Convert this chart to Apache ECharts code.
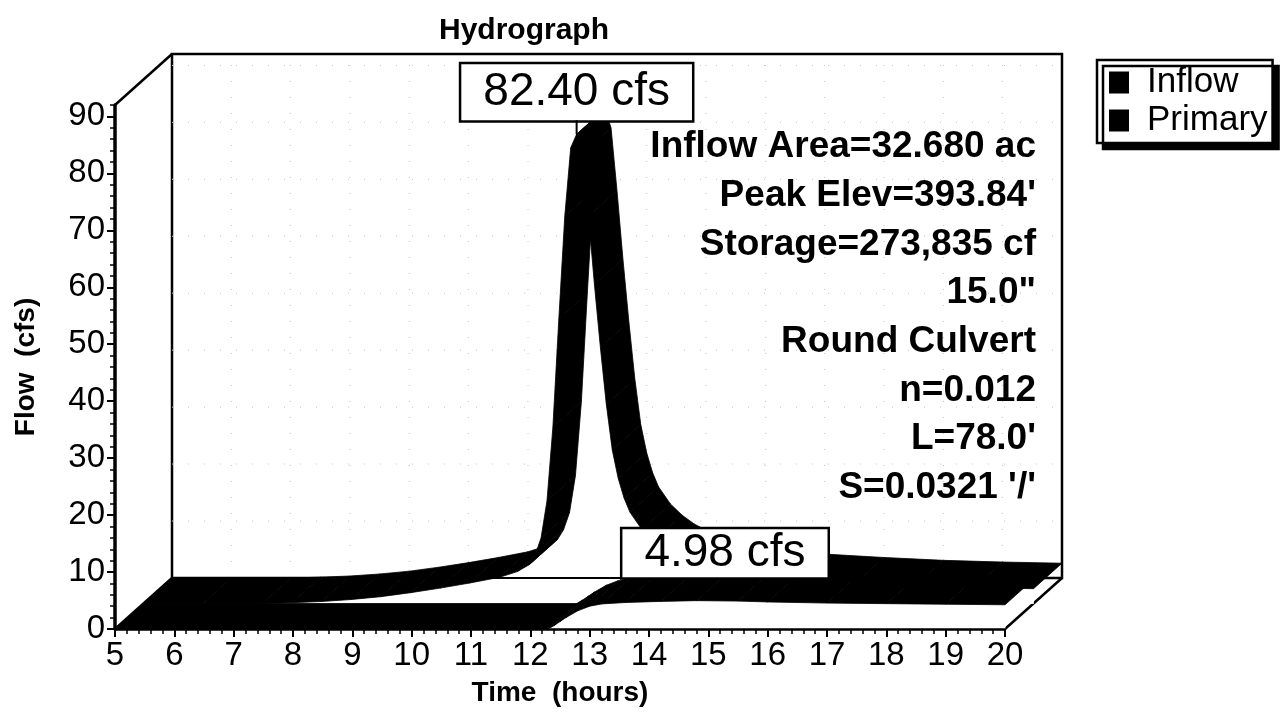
<!DOCTYPE html>
<html>
<head>
<meta charset="utf-8">
<script src="https://cdn.jsdelivr.net/npm/echarts@6/dist/echarts.min.js"></script>
<style>
  html, body { margin: 0; background: #fff; }
  #chart { width: 1282px; height: 714px; }
</style>
</head>
<body>
<div id="chart"></div>
<script>
// hours / cfs
var inflowTime = [5.0, 6.0, 7.0, 7.5, 8.0, 8.5, 9.0, 9.5, 10.0, 10.5,
                  11.0, 11.3, 11.5, 11.6, 11.7, 11.8, 11.9, 12.0, 12.1, 12.2,
                  12.3, 12.4, 12.5, 12.6, 12.7, 12.8, 12.9, 13.0, 13.1, 13.2,
                  13.4, 13.6, 13.8, 14.0, 14.5, 15.0, 16.0, 17.0, 18.0, 19.0, 20.0];
var inflowCfs  = [0, 0, 0, 0.15, 0.35, 0.7, 1.2, 1.9, 2.7, 3.6,
                  4.6, 5.6, 6.8, 8.5, 11.5, 18, 31, 50, 68, 80,
                  82.4, 79, 68, 56, 45, 35, 27, 22, 18.5, 16,
                  13, 11, 9.5, 8.4, 6.6, 5.5, 4.2, 3.6, 3.1, 2.8, 2.6];
var primaryTime = [5.0, 12.3, 12.4, 12.5, 12.6, 12.8, 13.0, 13.2, 13.6, 14.2,
                   14.8, 15.5, 16.0, 17.0, 18.0, 19.0, 20.0];
var primaryCfs  = [0, 0, 0.6, 1.3, 2.0, 3.2, 4.0, 4.4, 4.65, 4.85,
                   4.98, 4.9, 4.75, 4.55, 4.45, 4.35, 4.25];
var inflowPeak = [12.3, 82.40];
var primaryPeak = [14.8, 4.98];
var xRange = [5, 20];
var yRange = [0, 92];
var yTicks = [0, 10, 20, 30, 40, 50, 60, 70, 80, 90];
var notes = ['Inflow Area=32.680 ac', "Peak Elev=393.84'", 'Storage=273,835 cf', '15.0"',
             'Round Culvert', 'n=0.012', "L=78.0'", "S=0.0321 '/'"];

var FONT = '"Liberation Sans", Arial, sans-serif';
var DX = 57, DY = -51;   // offset of the back wall (depth 1)

function proj(api, t, v, d) {
  var p = api.coord([t, v]);
  return [p[0] + DX * d, p[1] + DY * d];
}

function zip(a, b) { return a.map(function (t, i) { return [t, b[i]]; }); }

// black top surface of a ribbon between two depths
function ribbonTop(d0, d1) {
  return function (params, api) {
    var i = params.dataIndexInside;
    if (i >= params.dataInsideLength - 1) return null;
    var t0 = api.value(0), v0 = api.value(1);
    var t1 = api.value(0, i + 1), v1 = api.value(1, i + 1);
    return {
      type: 'polygon',
      shape: { points: [proj(api, t0, v0, d0), proj(api, t1, v1, d0), proj(api, t1, v1, d1), proj(api, t0, v0, d1)] },
      style: { fill: '#000', stroke: '#000', lineWidth: 0.8 }
    };
  };
}
// white front face of a ribbon
function ribbonFace(d) {
  return function (params, api) {
    var i = params.dataIndexInside;
    if (i >= params.dataInsideLength - 1) return null;
    var t0 = api.value(0), v0 = api.value(1);
    var t1 = api.value(0, i + 1), v1 = api.value(1, i + 1);
    return {
      type: 'polygon',
      shape: { points: [proj(api, t0, 0, d), proj(api, t0, v0, d), proj(api, t1, v1, d), proj(api, t1, 0, d)] },
      style: { fill: '#fff', stroke: '#fff', lineWidth: 0.8 }
    };
  };
}

function renderWall(params, api) {
  var x0 = xRange[0], x1 = xRange[1], y0 = yRange[0], y1 = yRange[1];
  var kids = [];
  var dot = { stroke: '#c4c4c4', lineWidth: 1, lineDash: [1, 15] };
  for (var h = x0 + 1; h < x1; h++) {
    var a = proj(api, h, y0, 1), b = proj(api, h, y1, 1);
    kids.push({ type: 'line', shape: { x1: a[0], y1: a[1], x2: b[0], y2: b[1] }, style: dot });
  }
  for (var v = 10; v < y1; v += 10) {
    var c = proj(api, x0, v, 1), e = proj(api, x1, v, 1);
    kids.push({ type: 'line', shape: { x1: c[0], y1: c[1], x2: e[0], y2: e[1] }, style: dot });
  }
  kids.unshift({
    type: 'polygon',
    shape: { points: [proj(api, x0, y0, 1), proj(api, x1, y0, 1), proj(api, x1, y1, 1), proj(api, x0, y1, 1)] },
    style: { fill: '#fff', stroke: '#000', lineWidth: 2.5 }
  });
  [[x0, y1], [x0, y0], [x1, y0]].forEach(function (c) {
    var p = proj(api, c[0], c[1], 0), q = proj(api, c[0], c[1], 1);
    kids.push({ type: 'line', shape: { x1: p[0], y1: p[1], x2: q[0], y2: q[1] }, style: { stroke: '#000', lineWidth: 2.5 } });
  });
  return { type: 'group', children: kids };
}

// back floor edge, shows through under the rising limb
function renderFloorEdge(params, api) {
  var a = proj(api, xRange[0], yRange[0], 1), b = proj(api, xRange[1], yRange[0], 1);
  return { type: 'line', shape: { x1: a[0], y1: a[1], x2: b[0], y2: b[1] }, style: { stroke: '#000', lineWidth: 2 } };
}

var peakBox = [
  { gap: -14, pad: [5, 22, 5, 22], leader: true },
  { gap: 2, pad: [1, 22, 1, 22], leader: false }
];
function renderPeak(params, api) {
  var p = proj(api, api.value(0), api.value(1), 0.5);
  var txt = api.value(1).toFixed(2) + ' cfs';
  var box = peakBox[params.dataIndex];
  var bottom = p[1] + box.gap;
  var kids = [{
    type: 'text', x: p[0], y: bottom,
    style: {
      text: txt, fill: '#000', font: '46px ' + FONT, align: 'center', verticalAlign: 'bottom',
      backgroundColor: '#fff', borderColor: '#000', borderWidth: 2.5, padding: box.pad
    }
  }];
  if (box.leader) {
    kids.push({ type: 'line', shape: { x1: p[0], y1: bottom, x2: p[0], y2: p[1] }, style: { stroke: '#000', lineWidth: 2 } });
  }
  return { type: 'group', children: kids };
}

var chart = echarts.init(document.getElementById('chart'));
chart.setOption({
  animation: false,
  backgroundColor: '#fff',
  title: {
    text: 'Hydrograph', left: 434, top: 11,
    textStyle: { fontFamily: FONT, fontSize: 30, fontWeight: 'bold', color: '#000' }
  },
  legend: {
    data: ['Inflow', 'Primary'], orient: 'vertical', left: 1097, top: 60,
    selectedMode: false, icon: 'rect', itemWidth: 20, itemHeight: 22, itemGap: 3,
    padding: [5, 5, 5, 12],
    backgroundColor: '#fff', borderColor: '#000', borderWidth: 2.5,
    shadowColor: '#000', shadowBlur: 0, shadowOffsetX: 6, shadowOffsetY: 6,
    textStyle: { fontFamily: FONT, fontSize: 35, color: '#000', padding: [0, 0, 0, 13] }
  },
  grid: { left: 115, right: 277, top: 105, bottom: 85 },
  xAxis: {
    type: 'value', min: xRange[0], max: xRange[1], interval: 1, z: 10,
    name: 'Time  (hours)', nameLocation: 'middle', nameGap: 50,
    nameTextStyle: { fontFamily: FONT, fontSize: 28, fontWeight: 'bold', color: '#000' },
    axisLine: { lineStyle: { color: '#000', width: 2.5 } },
    axisTick: { length: 8, lineStyle: { color: '#000', width: 2 } },
    minorTick: { show: true, splitNumber: 5, length: 5, lineStyle: { color: '#000', width: 1.5 } },
    axisLabel: { fontFamily: FONT, fontSize: 33, color: '#000', margin: 10 },
    splitLine: { show: false }
  },
  yAxis: [{
    type: 'value', min: yRange[0], max: yRange[1], interval: 10, position: 'left', z: 10,
    name: 'Flow  (cfs)', nameLocation: 'middle', nameGap: 75, nameRotate: 90,
    nameTextStyle: { fontFamily: FONT, fontSize: 28, fontWeight: 'bold', color: '#000' },
    axisLine: { show: true, lineStyle: { color: '#000', width: 3.5 } },
    axisTick: { show: true, length: 8, customValues: yTicks, lineStyle: { color: '#000', width: 2 } },
    axisLabel: {
      fontFamily: FONT, fontSize: 33, color: '#000', margin: 10, customValues: yTicks,
      formatter: function (v) { return v % 10 === 0 ? v : ''; }
    },
    splitLine: { show: false }
  }, {
    type: 'value', min: yRange[0], max: yRange[1], interval: 2, position: 'left', z: 10,
    axisLine: { show: false },
    axisTick: { show: true, length: 5, lineStyle: { color: '#000', width: 1.5 } },
    axisLabel: { show: false },
    splitLine: { show: false }
  }],
  series: [
    { type: 'custom', name: 'wall', clip: false, silent: true, data: [[xRange[0], yRange[0]]], renderItem: renderWall },
    { type: 'custom', name: 'inflowFace', clip: false, silent: true, data: zip(inflowTime, inflowCfs), renderItem: ribbonFace(0.5) },
    { type: 'custom', name: 'floorEdge', clip: false, silent: true, data: [[xRange[0], yRange[0]]], renderItem: renderFloorEdge },
    { type: 'custom', name: 'Inflow', clip: false, silent: true, itemStyle: { color: '#000' }, data: zip(inflowTime, inflowCfs), renderItem: ribbonTop(0.5, 1) },
    { type: 'custom', name: 'primaryFace', clip: false, silent: true, data: zip(primaryTime, primaryCfs), renderItem: ribbonFace(0) },
    { type: 'custom', name: 'Primary', clip: false, silent: true, itemStyle: { color: '#000' }, data: zip(primaryTime, primaryCfs), renderItem: ribbonTop(0, 0.5) },
    { type: 'custom', name: 'peaks', clip: false, silent: true, z: 5, data: [inflowPeak, primaryPeak], renderItem: renderPeak }
  ],
  graphic: notes.map(function (s, k) {
    return {
      type: 'text', x: 1036, y: 147 + k * 48.7, z: 20,
      style: { text: s, fill: '#000', font: 'bold 37px ' + FONT, align: 'right', verticalAlign: 'middle' }
    };
  })
});
</script>
</body>
</html>
